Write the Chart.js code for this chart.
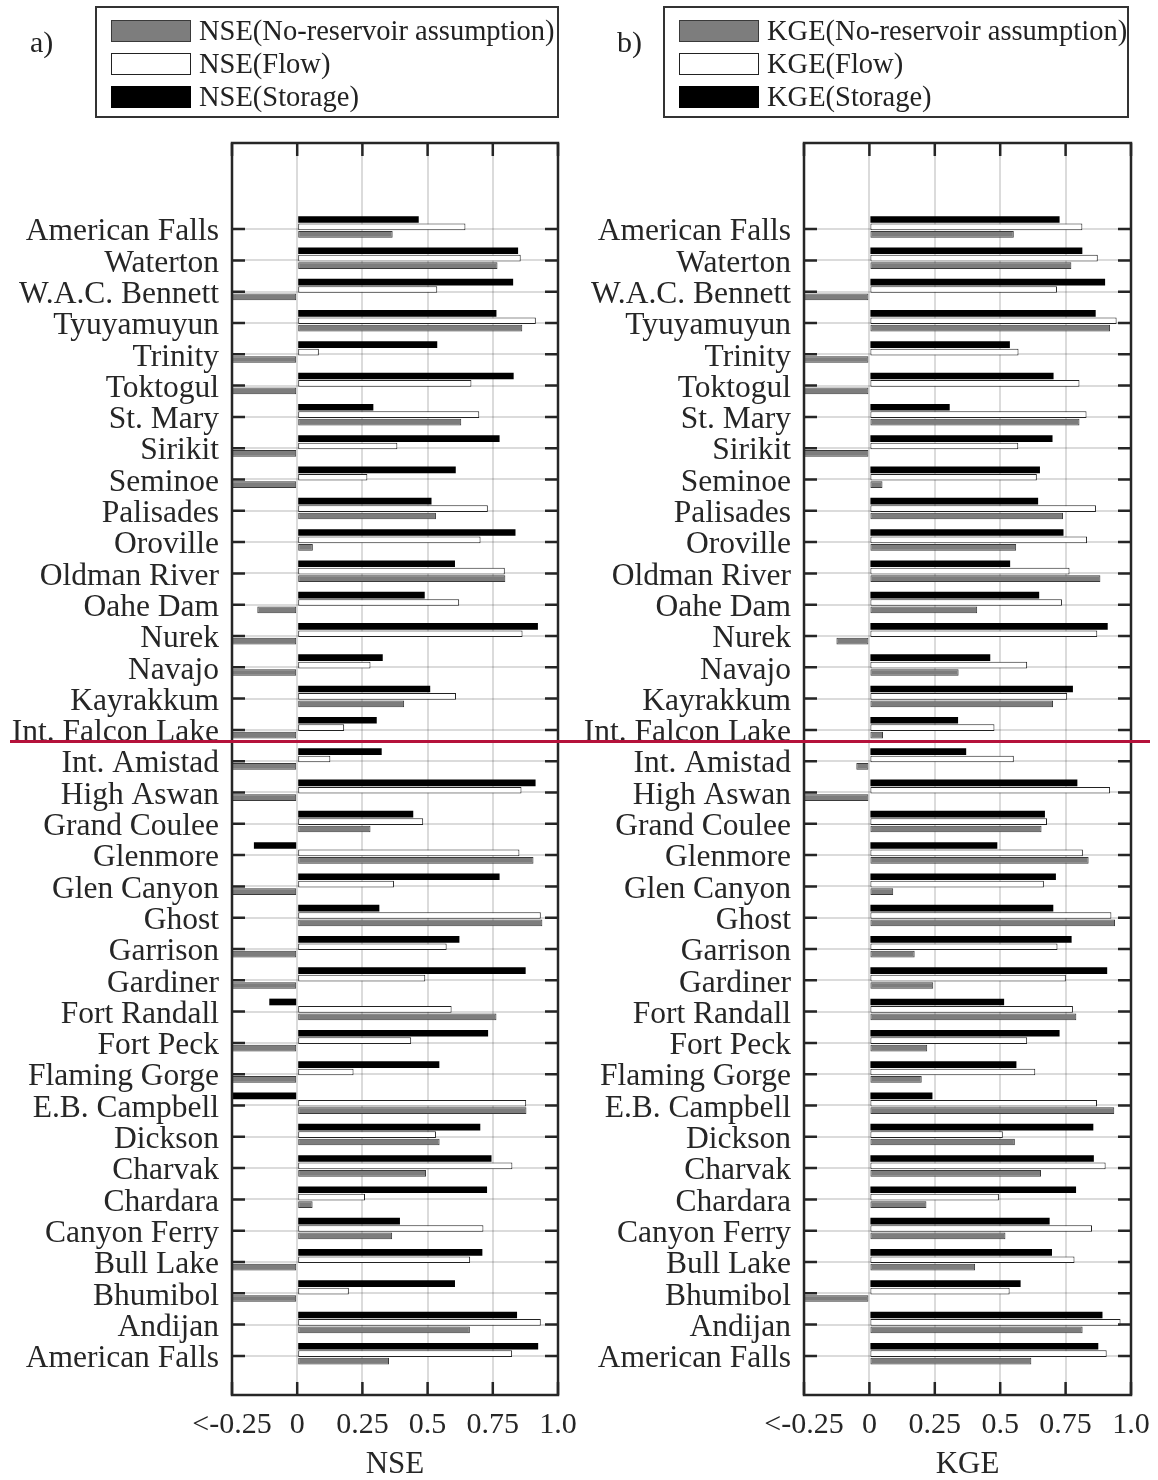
<!DOCTYPE html>
<html>
<head>
<meta charset="utf-8">
<script src="https://cdn.jsdelivr.net/npm/chart.js@4.4.1/dist/chart.umd.min.js"></script>
<style>
  body { margin: 0; background: #fff; }
  #page { position: relative; width: 1158px; height: 1480px; overflow: hidden;
          font-family: "Liberation Serif", "Times New Roman", serif; color: #222; }
  canvas { position: absolute; top: 0; }
  .tag { position: absolute; top: 27px; font-size: 30px; line-height: 30px; }
  .legend { position: absolute; top: 6px; height: 112px; border: 2px solid #333; box-sizing: border-box; background: #fff; }
  .legend .row { position: absolute; left: 14px; height: 30px; display: flex; align-items: center; white-space: nowrap; }
  .legend .sw { width: 80px; height: 22px; box-sizing: border-box; border: 1px solid #333; margin-right: 8px; }
  .legend span { font-size: 28.5px; line-height: 30px; }
  #redline { position: absolute; left: 10px; width: 1140px; top: 740px; height: 3px; background: #b5123b; z-index: 5; }
</style>
</head>
<body>
<div id="page">
  <canvas id="chartA" width="610" height="1480" style="left:0"></canvas>
  <canvas id="chartB" width="610" height="1480" style="left:580px"></canvas>
  <div class="tag" style="left:30px">a)</div>
  <div class="tag" style="left:617px">b)</div>
  <div class="legend" id="legendA" style="left:95px; width:464px"></div>
  <div class="legend" id="legendB" style="left:663px; width:466px"></div>
  <div id="redline"></div>
</div>
<script>
// reservoirs, top to bottom
const reservoirs = ["American Falls", "Waterton", "W.A.C. Bennett", "Tyuyamuyun", "Trinity", "Toktogul",
  "St. Mary", "Sirikit", "Seminoe", "Palisades", "Oroville", "Oldman River", "Oahe Dam", "Nurek", "Navajo",
  "Kayrakkum", "Int. Falcon Lake", "Int. Amistad", "High Aswan", "Grand Coulee", "Glenmore", "Glen Canyon",
  "Ghost", "Garrison", "Gardiner", "Fort Randall", "Fort Peck", "Flaming Gorge", "E.B. Campbell", "Dickson",
  "Charvak", "Chardara", "Canyon Ferry", "Bull Lake", "Bhumibol", "Andijan", "American Falls"];

// values below -0.25 are shown as -0.25 ("<-0.25")
const nseNoRes = [0.366, 0.768, -0.25, 0.863, -0.25, -0.25, 0.629, -0.25, -0.25, 0.532, 0.06, 0.798, -0.153,
  -0.25, -0.25, 0.41, -0.25, -0.25, -0.25, 0.281, 0.906, -0.25, 0.94, -0.25, -0.25, 0.764, -0.25, -0.25,
  0.879, 0.546, 0.494, 0.059, 0.364, -0.25, -0.25, 0.662, 0.352];
const nseFlow = [0.645, 0.857, 0.537, 0.915, 0.083, 0.668, 0.698, 0.384, 0.269, 0.731, 0.703, 0.796, 0.621,
  0.864, 0.281, 0.609, 0.18, 0.127, 0.86, 0.483, 0.852, 0.371, 0.934, 0.573, 0.491, 0.592, 0.437, 0.216,
  0.878, 0.532, 0.825, 0.26, 0.714, 0.663, 0.198, 0.934, 0.824];
const nseStorage = [0.466, 0.847, 0.828, 0.764, 0.537, 0.83, 0.292, 0.776, 0.608, 0.515, 0.837, 0.605, 0.489,
  0.923, 0.328, 0.51, 0.305, 0.324, 0.914, 0.445, -0.166, 0.776, 0.315, 0.622, 0.876, -0.107, 0.732, 0.545,
  -0.25, 0.702, 0.745, 0.728, 0.394, 0.71, 0.605, 0.843, 0.924];

const kgeNoRes = [0.552, 0.772, -0.25, 0.92, -0.25, -0.25, 0.803, -0.25, 0.05, 0.74, 0.561, 0.883, 0.412,
  -0.126, 0.341, 0.702, 0.052, -0.05, -0.25, 0.658, 0.838, 0.091, 0.939, 0.173, 0.244, 0.791, 0.221, 0.2,
  0.936, 0.556, 0.656, 0.218, 0.52, 0.404, -0.25, 0.815, 0.619];
const kgeFlow = [0.814, 0.873, 0.717, 0.945, 0.57, 0.803, 0.83, 0.569, 0.64, 0.866, 0.832, 0.765, 0.736,
  0.871, 0.603, 0.756, 0.478, 0.552, 0.92, 0.679, 0.816, 0.667, 0.925, 0.719, 0.751, 0.778, 0.603, 0.634,
  0.87, 0.51, 0.903, 0.495, 0.851, 0.784, 0.536, 0.96, 0.907];
const kgeStorage = [0.727, 0.814, 0.901, 0.865, 0.537, 0.704, 0.307, 0.70, 0.652, 0.645, 0.742, 0.538, 0.649,
  0.911, 0.462, 0.778, 0.339, 0.37, 0.795, 0.671, 0.489, 0.713, 0.703, 0.773, 0.909, 0.515, 0.727, 0.562,
  0.241, 0.856, 0.858, 0.79, 0.689, 0.698, 0.578, 0.891, 0.875];

const xTicks = [-0.25, 0, 0.25, 0.5, 0.75, 1.0];
const xTickLabels = ["<-0.25", "0", "0.25", "0.5", "0.75", "1.0"];

const seriesNames = ["(No-reservoir assumption)", "(Flow)", "(Storage)"];
const fills = ["#7d7d7d", "#ffffff", "#000000"];
const edges = ["#3a3a3a", "#222222", "#000000"];

const FONT = '"Liberation Serif", "Times New Roman", serif';
const INK = '#262626';

// y axis runs 0..40 (top to bottom), first reservoir 2.75 units down
const tickPos = reservoirs.map((r, i) => 2.75 + i);
const barPos = tickPos.map(p => p - 0.07);

// inner ticks + box, matlab style
const framePlugin = {
  id: 'frame',
  afterDatasetsDraw(chart) {
    const { ctx, chartArea: a, scales: { x, y } } = chart;
    const len = 13;
    ctx.save();
    ctx.strokeStyle = INK;
    ctx.lineWidth = 2.5;
    ctx.beginPath();
    x.ticks.forEach(t => {
      const px = x.getPixelForValue(t.value);
      ctx.moveTo(px, a.bottom); ctx.lineTo(px, a.bottom - len);
      ctx.moveTo(px, a.top); ctx.lineTo(px, a.top + len);
    });
    y.ticks.forEach(t => {
      const py = y.getPixelForValue(t.value);
      ctx.moveTo(a.left, py); ctx.lineTo(a.left + len, py);
      ctx.moveTo(a.right, py); ctx.lineTo(a.right - len, py);
    });
    ctx.stroke();
    ctx.strokeRect(a.left, a.top, a.right - a.left, a.bottom - a.top);
    ctx.restore();
  }
};

function makePanel(id, metric, noRes, flow, storage, yWidth, padRight) {
  const values = [noRes, flow, storage];
  // storage on top of each group, no-reservoir at the bottom
  const order = [2, 1, 0];
  const datasets = order.map(k => ({
    label: metric + seriesNames[k],
    data: values[k],
    backgroundColor: fills[k],
    borderColor: edges[k],
    borderWidth: k === 2 ? 0 : 1,
    borderSkipped: false,
    categoryPercentage: 0.71,
    barPercentage: 0.9
  }));

  return new Chart(document.getElementById(id), {
    type: 'bar',
    data: { labels: barPos, datasets: datasets },
    options: {
      responsive: false,
      animation: false,
      devicePixelRatio: 1,
      indexAxis: 'y',
      layout: { padding: { top: 143, right: padRight, bottom: 0, left: 0 } },
      plugins: { legend: { display: false }, tooltip: { enabled: false } },
      scales: {
        x: {
          type: 'linear',
          min: -0.25,
          max: 1.0,
          afterBuildTicks: s => { s.ticks = xTicks.map(v => ({ value: v })); },
          afterFit: s => { s.height = 85; },
          ticks: {
            callback: (v, i) => xTickLabels[i],
            font: { family: FONT, size: 30, lineHeight: 1.2 },
            color: INK,
            padding: 12,
            maxRotation: 0,
            autoSkip: false
          },
          grid: { color: 'rgba(0,0,0,0.14)', lineWidth: 2, drawTicks: false },
          border: { display: false },
          title: {
            display: true,
            text: metric,
            font: { family: FONT, size: 31, lineHeight: 1.0 },
            color: INK,
            padding: { top: 0, bottom: 0 }
          }
        },
        y: {
          type: 'linear',
          reverse: true,
          offset: false,
          min: 0,
          max: 40,
          afterBuildTicks: s => { s.ticks = tickPos.map(v => ({ value: v })); },
          afterFit: s => { s.width = yWidth; },
          ticks: {
            callback: (v, i) => reservoirs[i],
            font: { family: FONT, size: 31.5, lineHeight: 1.0 },
            color: INK,
            padding: 13,
            labelOffset: 3,
            autoSkip: false
          },
          grid: { color: 'rgba(0,0,0,0.14)', lineWidth: 2, drawTicks: false, offset: false },
          border: { display: false }
        }
      }
    },
    plugins: [framePlugin]
  });
}

function makeLegend(id, metric) {
  const box = document.getElementById(id);
  [0, 1, 2].forEach((k, i) => {
    const row = document.createElement('div');
    row.className = 'row';
    row.style.top = (8 + i * 33) + 'px';
    const sw = document.createElement('div');
    sw.className = 'sw';
    sw.style.background = fills[k];
    sw.style.borderColor = edges[k];
    const txt = document.createElement('span');
    txt.textContent = metric + seriesNames[k];
    row.appendChild(sw);
    row.appendChild(txt);
    box.appendChild(row);
  });
}

makePanel('chartA', 'NSE', nseNoRes, nseFlow, nseStorage, 232, 52);
makePanel('chartB', 'KGE', kgeNoRes, kgeFlow, kgeStorage, 224, 59);
makeLegend('legendA', 'NSE');
makeLegend('legendB', 'KGE');
</script>
</body>
</html>
